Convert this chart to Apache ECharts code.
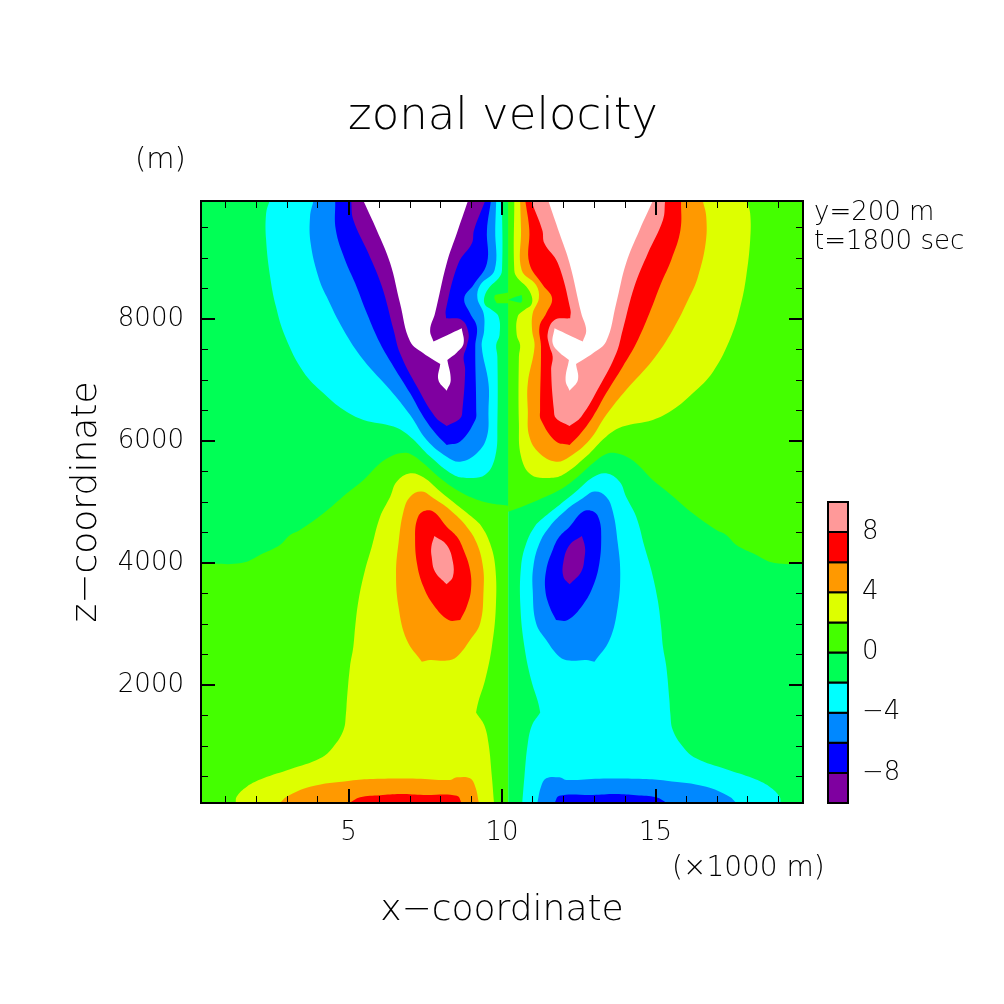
<!DOCTYPE html>
<html>
<head>
<meta charset="utf-8">
<style>html,body{margin:0;padding:0;background:#fff}#main{width:1004px;height:1004px}</style>
<script src="https://cdn.jsdelivr.net/npm/echarts@6/dist/echarts.min.js"></script>
</head>
<body>
<div id="main"></div>
<script>
// axis ranges and ticks (x in 1000 m, z in m)
const xRange = [0.2, 19.8];
const zRange = [70, 9930];
const xMajor = [5, 10, 15];
const xMinor = [1, 2, 3, 4, 6, 7, 8, 9, 11, 12, 13, 14, 16, 17, 18, 19];
const zMajor = [2000, 4000, 6000, 8000];
const zMinor = [500, 1000, 1500, 2500, 3000, 3500, 4500, 5000, 5500, 6500, 7000, 7500, 8500, 9000, 9500];

// colour bar
const levelLow = [-10, -8, -6, -4, -2, 0, 2, 4, 6, 8];
const levelLabels = [-8, -4, 0, 4, 8];

// contour outlines, [x, z]. Left of x=10.2
const leftBack = [[0.2,70],[10.2,70],[10.2,9930],[0.2,9930]];
const leftNeg0 = [[0.2,4000],[1.52,4000],[2.23,4160],[2.77,4296],[3.1,4460],[3.42,4542],[4.19,4815],[4.95,5142],[5.49,5361],[6.03,5634],[6.36,5743],[6.68,5798],[7.01,5787],[7.44,5634],[7.99,5388],[8.53,5197],[9.07,5060],[9.61,4979],[10.2,4940],[10.2,9930],[0.2,9930]];
const leftLobe = [[9.77,8391],[10.2,8430],[10.2,8255],[9.83,8255],[9.75,8337]];
const leftNeg2 = [[2.43,9930],[2.32,9730],[2.32,9290],[2.45,8690],[2.64,8200],[2.94,7710],[3.53,7135],[4.19,6780],[4.84,6510],[5.49,6345],[6.47,6235],[7.01,6070],[7.66,5745],[8.42,5445],[8.85,5395],[9.45,5445],[9.78,5745],[9.85,6290],[9.85,7380],[9.81,7570],[9.92,7735],[9.89,8035],[9.67,8145],[9.45,8225],[9.43,8365],[9.61,8530],[9.89,8665],[10,8800],[10,9930]];
const leftNeg4 = [[3.86,9930],[3.75,9674],[3.77,9237],[4.02,8691],[4.29,8364],[4.84,7818],[5.49,7326],[6.36,6835],[7.01,6425],[7.55,6016],[8.2,5743],[8.64,5661],[9.18,5798],[9.51,6071],[9.56,6507],[9.56,6944],[9.34,7545],[9.42,7818],[9.4,8091],[9.2,8337],[9.29,8555],[9.76,8801],[9.78,9456],[9.81,9930]];
const leftNeg6 = [[4.57,9930],[4.59,9456],[4.89,8964],[5.22,8582],[5.6,8091],[6.03,7599],[6.47,7217],[7.01,6780],[7.44,6398],[7.88,6098],[8.2,5934],[8.64,5989],[9.13,6344],[9.16,6507],[9.13,7545],[9.18,7872],[8.96,8091],[8.77,8337],[9.07,8555],[9.51,8910],[9.51,9456],[9.64,9930]];
const leftNeg8 = [[5.09,9930],[5.16,9620],[5.65,9074],[6.09,8528],[6.47,7818],[6.68,7436],[7.23,6890],[7.82,6398],[8.2,6245],[8.64,6371],[8.71,6507],[8.8,7163],[8.75,7381],[8.85,7545],[8.91,7763],[8.69,7982],[8.18,8009],[8.17,8145],[8.58,8910],[9.02,9237],[9.09,9456],[9.45,9930]];
const leftOver = [[5.49,9930],[5.92,9456],[6.36,8910],[6.68,8255],[7.01,7627],[7.44,7436],[7.99,7261],[7.93,6999],[8.2,6824],[8.33,6999],[8.22,7326],[8.53,7447],[8.75,7599],[8.69,7845],[7.77,7627],[7.66,7818],[7.82,8091],[8.2,8910],[8.53,9401],[8.89,9930]];
const leftPos2 = [[7.01,5470],[6.57,5333],[6.36,5088],[6.03,4760],[5.76,4269],[5.54,3887],[5.33,3395],[5.22,2958],[5.16,2631],[5.05,2303],[4.95,1757],[4.92,1539],[4.84,1266],[4.51,993],[4.08,802],[3.1,622],[2.23,474],[1.69,338],[1.36,174],[1.33,70],[9.74,70],[9.67,501],[9.56,1047],[9.42,1348],[9.16,1550],[9.16,1566],[9.23,1730],[9.45,2085],[9.67,2631],[9.8,3286],[9.78,3941],[9.61,4323],[9.34,4596],[9.07,4733],[8.53,4951],[7.99,5170],[7.44,5404]];
const leftPos4 = [[7.39,5170],[7.01,5088],[6.79,4842],[6.63,4323],[6.55,3832],[6.63,3286],[6.9,2740],[7.39,2385],[7.66,2412],[8.2,2402],[8.53,2467],[8.96,2740],[9.29,3013],[9.4,3559],[9.38,3941],[9.18,4323],[8.85,4596],[8.31,4869],[7.77,5060]];
const leftPos6 = [[7.41,4842],[7.23,4706],[7.17,4433],[7.23,3996],[7.44,3614],[7.77,3313],[8.26,3068],[8.64,3068],[8.85,3286],[8.99,3559],[8.96,3887],[8.75,4214],[8.53,4433],[8.2,4596],[7.77,4842]];
const leftPos8 = [[7.8,4443],[7.7,4269],[7.71,4105],[7.82,3859],[8.2,3652],[8.4,3777],[8.4,4023],[8.2,4296]];
const leftFloor4 = [[2.77,70],[2.99,174],[3.75,338],[5.05,436],[5.81,463],[7.23,469],[8.31,447],[8.53,490],[8.96,474],[9.13,338],[9.25,70]];
const leftFloor6 = [[5.03,70],[5.38,163],[6.03,196],[6.68,217],[7.44,201],[8.53,190],[8.69,70]];

// right of x=10.2
const rightBack = [[10.2,70],[19.8,70],[19.8,9930],[10.2,9930]];
const rightPos0 = [[20.2,4000],[18.88,4000],[18.17,4160],[17.63,4296],[17.3,4460],[16.98,4540],[16.21,4815],[15.45,5140],[14.91,5360],[14.37,5635],[14.04,5745],[13.72,5800],[13.39,5785],[12.96,5635],[12.41,5390],[11.87,5195],[11.3,5060],[10.79,4950],[10.2,4840],[10.2,9930],[20.2,9930]];
const rightLens = [[10.2,8310],[10.45,8360],[10.64,8391],[10.66,8310],[10.62,8262]];
const rightPos2 = [[17.97,9930],[18.08,9730],[18.08,9290],[17.95,8690],[17.76,8200],[17.46,7710],[16.87,7135],[16.21,6780],[15.56,6510],[14.91,6345],[13.93,6235],[13.39,6070],[12.74,5745],[11.98,5445],[11.55,5395],[10.95,5445],[10.62,5745],[10.55,6290],[10.55,7380],[10.59,7570],[10.48,7735],[10.51,8035],[10.73,8145],[10.95,8225],[10.97,8365],[10.79,8530],[10.51,8665],[10.4,8800],[10.4,9930]];
const rightPos4 = [[16.54,9930],[16.65,9674],[16.63,9237],[16.38,8691],[16.11,8364],[15.56,7818],[14.91,7326],[14.04,6835],[13.39,6425],[12.85,6016],[12.2,5743],[11.76,5661],[11.22,5798],[10.89,6071],[10.84,6507],[10.84,6944],[11.06,7545],[10.98,7818],[11,8091],[11.2,8337],[11.11,8555],[10.64,8801],[10.62,9456],[10.59,9930]];
const rightPos6 = [[15.83,9930],[15.81,9456],[15.51,8964],[15.18,8582],[14.8,8091],[14.37,7599],[13.93,7217],[13.39,6780],[12.96,6398],[12.52,6098],[12.2,5934],[11.76,5989],[11.27,6344],[11.24,6507],[11.27,7545],[11.22,7872],[11.44,8091],[11.63,8337],[11.33,8555],[10.89,8910],[10.89,9456],[10.76,9930]];
const rightPos8 = [[15.31,9930],[15.24,9620],[14.75,9074],[14.31,8528],[13.93,7818],[13.72,7436],[13.17,6890],[12.58,6398],[12.2,6245],[11.76,6371],[11.69,6507],[11.6,7163],[11.65,7381],[11.55,7545],[11.49,7763],[11.71,7982],[12.22,8009],[12.23,8145],[11.82,8910],[11.38,9237],[11.31,9456],[10.95,9930]];
const rightOver = [[14.91,9930],[14.48,9456],[14.04,8910],[13.72,8255],[13.39,7627],[12.96,7436],[12.41,7261],[12.47,6999],[12.2,6824],[12.07,6999],[12.18,7326],[11.87,7447],[11.65,7599],[11.71,7845],[12.63,7627],[12.74,7818],[12.58,8091],[12.2,8910],[11.87,9401],[11.51,9930]];
const rightNeg2 = [[13.39,5470],[13.83,5333],[14.04,5088],[14.37,4760],[14.64,4269],[14.86,3887],[15.07,3395],[15.18,2958],[15.24,2631],[15.35,2303],[15.45,1757],[15.48,1539],[15.56,1266],[15.89,993],[16.32,802],[17.3,622],[18.17,474],[18.71,338],[19.04,174],[19.07,70],[10.66,70],[10.73,501],[10.84,1047],[10.98,1348],[11.24,1550],[11.24,1566],[11.17,1730],[10.95,2085],[10.73,2631],[10.6,3286],[10.62,3941],[10.79,4323],[11.06,4596],[11.33,4733],[11.87,4951],[12.41,5170],[12.96,5404]];
const rightNeg4 = [[13.01,5170],[13.39,5088],[13.61,4842],[13.77,4323],[13.85,3832],[13.77,3286],[13.5,2740],[13.01,2385],[12.74,2412],[12.2,2402],[11.87,2467],[11.44,2740],[11.11,3013],[11,3559],[11.02,3941],[11.22,4323],[11.55,4596],[12.09,4869],[12.63,5060]];
const rightNeg6 = [[12.99,4842],[13.17,4706],[13.23,4433],[13.17,3996],[12.96,3614],[12.63,3313],[12.14,3068],[11.76,3068],[11.55,3286],[11.41,3559],[11.44,3887],[11.65,4214],[11.87,4433],[12.2,4596],[12.63,4842]];
const rightNeg8 = [[12.6,4443],[12.7,4269],[12.69,4105],[12.58,3859],[12.2,3652],[12,3777],[12,4023],[12.2,4296]];
const rightFloor4 = [[17.63,70],[17.41,174],[16.65,338],[15.35,436],[14.59,463],[13.17,469],[12.09,447],[11.87,490],[11.44,474],[11.27,338],[11.15,70]];
const rightFloor6 = [[15.37,70],[15.02,163],[14.37,196],[13.72,217],[12.96,201],[11.87,190],[11.71,70]];

const colors = {
  n10: '#7f00a0', n8: '#0000ff', n6: '#0088ff', n4: '#00ffff', n2: '#00ff55',
  p0: '#44ff00', p2: '#ddff00', p4: '#ff9900', p6: '#ff0000', p8: '#ff9999',
  over: '#ffffff',
};
const barColors = [colors.n10, colors.n8, colors.n6, colors.n4, colors.n2,
  colors.p0, colors.p2, colors.p4, colors.p6, colors.p8];

// painter's order, outer bands first
const layers = [
  [leftBack, colors.p0], [leftNeg0, colors.n2], [leftLobe, colors.p0],
  [leftNeg2, colors.n4], [leftNeg4, colors.n6], [leftNeg6, colors.n8], [leftNeg8, colors.n10], [leftOver, colors.over],
  [leftPos2, colors.p2], [leftPos4, colors.p4], [leftPos6, colors.p6], [leftPos8, colors.p8],
  [leftFloor4, colors.p4], [leftFloor6, colors.p6],
  [rightBack, colors.n2], [rightPos0, colors.p0], [rightLens, colors.n2],
  [rightPos2, colors.p2], [rightPos4, colors.p4], [rightPos6, colors.p6], [rightPos8, colors.p8], [rightOver, colors.over],
  [rightNeg2, colors.n4], [rightNeg4, colors.n6], [rightNeg6, colors.n8], [rightNeg8, colors.n10],
  [rightFloor4, colors.n6], [rightFloor6, colors.n8],
];

const font = 'DejaVu Sans';
const weight = 200;
const black = '#000';

// doubled vertices stay as corners when the polygon is smoothed
function keepCorners(points) {
  const out = [];
  points.forEach((p, i) => {
    const a = points[(i + points.length - 1) % points.length];
    const b = points[(i + 1) % points.length];
    const turn = Math.atan2(b[1] - p[1], b[0] - p[0]) - Math.atan2(p[1] - a[1], p[0] - a[0]);
    const bend = Math.abs(Math.atan2(Math.sin(turn), Math.cos(turn)));
    out.push(p);
    if (bend > 1) out.push([p[0], p[1]]);
  });
  return out;
}

function frameAxis(range, position, ticks, length, width, labelled, extra) {
  return Object.assign({
    type: 'value',
    gridIndex: 0,
    min: range[0],
    max: range[1],
    position: position,
    z: 10,
    axisLine: { show: true, onZero: false, lineStyle: { color: black, width: 2 } },
    axisTick: { show: true, inside: true, length: length, customValues: ticks, lineStyle: { color: black, width: width } },
    axisLabel: labelled
      ? { show: true, customValues: ticks, color: black, fontFamily: font, fontWeight: weight, fontSize: 26, margin: 17, formatter: (v) => String(v) }
      : { show: false },
    splitLine: { show: false },
  }, extra || {});
}

function note(text, left, top, size) {
  return {
    text: text,
    left: left,
    top: top,
    padding: 0,
    textStyle: { color: black, fontFamily: font, fontWeight: weight, fontSize: size },
  };
}

var chartDom = document.getElementById('main');
var myChart = echarts.init(chartDom, null, { renderer: 'canvas' });

var option = {
  animation: false,
  backgroundColor: '#ffffff',
  title: [
    Object.assign(note('zonal velocity', 503, 95, 45), { textAlign: 'center' }),
    note('(m)', 135, 146, 29),
    note('(×1000 m)', 672, 855, 28),
    note('y=200 m', 814, 200, 26),
    note('t=1800 sec', 814, 229, 26),
  ],
  grid: [
    { left: 201, top: 201, width: 602, height: 602 },
    { left: 828, top: 502, width: 20, height: 301 },
  ],
  xAxis: [
    frameAxis(xRange, 'bottom', xMajor, 14, 2, true, {
      name: 'x−coordinate',
      nameLocation: 'middle',
      nameGap: 90,
      nameTextStyle: { color: black, fontFamily: font, fontWeight: weight, fontSize: 36 },
    }),
    frameAxis(xRange, 'top', xMajor, 14, 2, false),
    frameAxis(xRange, 'bottom', xMinor, 7, 1, false),
    frameAxis(xRange, 'top', xMinor, 7, 1, false),
    { type: 'value', gridIndex: 1, min: 0, max: 1, show: false },
  ],
  yAxis: [
    frameAxis(zRange, 'left', zMajor, 14, 2, true, {
      name: 'z−coordinate',
      nameLocation: 'middle',
      nameRotate: 90,
      nameGap: 96,
      nameTextStyle: { color: black, fontFamily: font, fontWeight: weight, fontSize: 36 },
    }),
    frameAxis(zRange, 'right', zMajor, 14, 2, false),
    frameAxis(zRange, 'left', zMinor, 7, 1, false),
    frameAxis(zRange, 'right', zMinor, 7, 1, false),
    {
      type: 'value',
      gridIndex: 1,
      min: -10,
      max: 10,
      position: 'right',
      axisLine: { show: false },
      axisTick: { show: false },
      splitLine: { show: false },
      axisLabel: {
        show: true,
        customValues: levelLabels,
        color: black,
        margin: 14,
        fontFamily: font,
        fontWeight: weight,
        fontSize: 26,
        formatter: (v) => String(v).replace('-', '−'),
      },
    },
  ],
  series: [
    {
      type: 'custom',
      xAxisIndex: 0,
      yAxisIndex: 0,
      clip: true,
      silent: true,
      data: layers.map((l, i) => [i]),
      renderItem: (params, api) => {
        const layer = layers[params.dataIndex];
        return {
          type: 'polygon',
          shape: { points: keepCorners(layer[0].map((p) => api.coord(p))), smooth: 0.4 },
          style: { fill: layer[1], stroke: null },
        };
      },
    },
    {
      type: 'custom',
      xAxisIndex: 4,
      yAxisIndex: 4,
      silent: true,
      z: 5,
      data: levelLow.map((v) => [0, v]),
      renderItem: (params, api) => {
        const low = api.value(1);
        const a = api.coord([0, low + 2]);
        const b = api.coord([1, low]);
        return {
          type: 'rect',
          shape: { x: a[0], y: a[1], width: b[0] - a[0], height: b[1] - a[1] },
          style: { fill: barColors[params.dataIndex], stroke: black, lineWidth: 2 },
        };
      },
    },
  ],
};

option && myChart.setOption(option);

window.onresize = function () {
  myChart.resize();
};
</script>
</body>
</html>
